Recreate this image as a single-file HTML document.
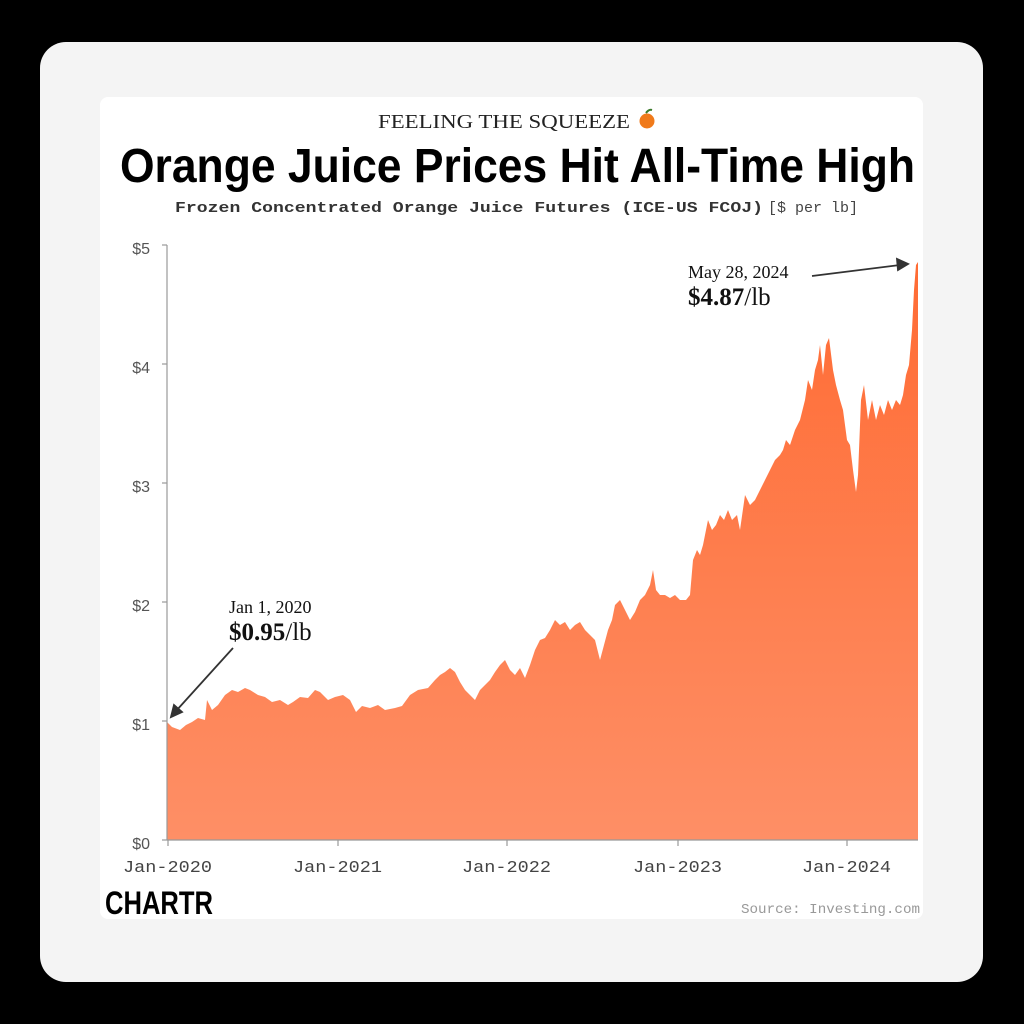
<!DOCTYPE html>
<html><head><meta charset="utf-8"><style>
html,body{margin:0;padding:0;background:#000;width:1024px;height:1024px;overflow:hidden}
</style></head><body>
<svg width="1024" height="1024" viewBox="0 0 1024 1024" xmlns="http://www.w3.org/2000/svg">
<defs>
<linearGradient id="g" x1="0" y1="245" x2="0" y2="840" gradientUnits="userSpaceOnUse">
<stop offset="0" stop-color="#ff6a32"/><stop offset="1" stop-color="#fe8f66"/>
</linearGradient>
</defs>
<rect x="40" y="42" width="943" height="940" rx="26" fill="#f4f4f4"/>
<rect x="100" y="97" width="823" height="822" rx="8" fill="#ffffff"/>
<text x="378" y="128" font-family="Liberation Serif, serif" font-size="20" textLength="252" lengthAdjust="spacingAndGlyphs" fill="#222">FEELING THE SQUEEZE</text>
<circle cx="647" cy="121" r="7.5" fill="#f07a1a"/><path d="M646 113 q3 -4 6 -3" stroke="#3a7a2a" stroke-width="2" fill="none"/>
<text x="120" y="182" font-family="Liberation Sans Narrow, Liberation Sans, sans-serif" font-weight="bold" font-size="48" textLength="795" lengthAdjust="spacingAndGlyphs" fill="#000">Orange Juice Prices Hit All-Time High</text>
<text x="175" y="212" font-family="Liberation Mono, monospace" font-weight="bold" font-size="15" textLength="588" lengthAdjust="spacingAndGlyphs" fill="#333">Frozen Concentrated Orange Juice Futures (ICE-US FCOJ)</text>
<text x="768" y="212" font-family="Liberation Mono, monospace" font-size="15" textLength="90" lengthAdjust="spacingAndGlyphs" fill="#444">[$ per lb]</text>
<path fill="url(#g)" d="M167,840 L167,722 172,727 180,730 186,725 192,722 198,718 205,720 207,700 212,710 218,705 225,695 232,690 238,692 245,688 250,690 258,695 265,697 272,702 280,700 288,705 293,702 300,697 308,698 315,690 320,692 328,700 335,697 343,695 350,700 356,712 362,706 370,708 378,705 385,710 395,708 402,706 410,695 418,690 428,688 435,680 440,675 445,672 450,668 455,672 460,682 465,690 470,695 475,700 480,690 485,685 490,680 495,672 500,665 505,660 510,670 515,675 520,668 525,678 530,665 535,650 540,640 545,638 550,630 555,620 560,625 565,622 570,630 575,625 580,622 585,630 590,635 595,640 600,660 604,645 608,630 612,620 615,605 620,600 625,610 630,620 635,612 640,600 645,595 650,585 653,570 656,590 660,595 665,595 670,598 675,595 680,600 686,600 690,595 693,560 697,550 700,555 703,545 708,520 712,530 716,525 720,515 724,520 728,510 732,520 737,515 740,530 745,495 750,505 755,500 760,490 765,480 770,470 775,460 780,455 783,450 786,440 790,445 795,430 800,420 805,400 808,380 812,390 815,370 818,360 820,345 823,375 826,345 829,338 833,370 836,385 840,400 843,410 847,440 850,445 853,470 856,492 858,475 861,400 864,385 868,420 872,400 876,420 880,405 884,415 888,400 892,410 896,400 900,405 903,395 906,375 909,365 912,330 914,290 916,265 918,262 918,840 Z"/>
<g stroke="#999" stroke-width="1.2">
<line x1="167" y1="245" x2="167" y2="840"/><line x1="167" y1="840" x2="918" y2="840"/>
<line x1="162" y1="245" x2="167" y2="245"/><line x1="162" y1="364" x2="167" y2="364"/><line x1="162" y1="483" x2="167" y2="483"/><line x1="162" y1="602" x2="167" y2="602"/><line x1="162" y1="721" x2="167" y2="721"/><line x1="162" y1="840" x2="167" y2="840"/>
<line x1="168" y1="840" x2="168" y2="846"/><line x1="338" y1="840" x2="338" y2="846"/><line x1="507" y1="840" x2="507" y2="846"/><line x1="678" y1="840" x2="678" y2="846"/><line x1="847" y1="840" x2="847" y2="846"/>
</g>
<g font-family="Liberation Sans, sans-serif" font-size="16" fill="#555" text-anchor="end">
<text x="150" y="254">$5</text><text x="150" y="373">$4</text><text x="150" y="492">$3</text><text x="150" y="611">$2</text><text x="150" y="730">$1</text><text x="150" y="849">$0</text>
</g>
<g font-family="Liberation Mono, monospace" font-size="17" fill="#444">
<text x="123" y="872" textLength="89" lengthAdjust="spacingAndGlyphs">Jan-2020</text>
<text x="293" y="872" textLength="89" lengthAdjust="spacingAndGlyphs">Jan-2021</text>
<text x="462" y="872" textLength="89" lengthAdjust="spacingAndGlyphs">Jan-2022</text>
<text x="633" y="872" textLength="89" lengthAdjust="spacingAndGlyphs">Jan-2023</text>
<text x="802" y="872" textLength="89" lengthAdjust="spacingAndGlyphs">Jan-2024</text>
</g>
<g font-family="Liberation Serif, serif" fill="#111">
<text x="229" y="613" font-size="18">Jan 1, 2020</text>
<text x="229" y="640" font-size="25"><tspan font-weight="bold">$0.95</tspan>/lb</text>
<text x="688" y="278" font-size="18">May 28, 2024</text>
<text x="688" y="305" font-size="25"><tspan font-weight="bold">$4.87</tspan>/lb</text>
</g>
<g stroke="#333" stroke-width="1.8" fill="#333">
<line x1="233" y1="648" x2="176" y2="711"/><path d="M171,717 L174,705 L182,712 Z"/>
<line x1="812" y1="276" x2="900" y2="265"/><path d="M908,264 L897,259 L898,270 Z"/>
</g>
<text x="105" y="914" font-family="Liberation Sans Narrow, Liberation Sans, sans-serif" font-weight="bold" font-size="32" textLength="108" lengthAdjust="spacingAndGlyphs" fill="#000">CHARTR</text>
<text x="741" y="913" font-family="Liberation Mono, monospace" font-size="14" textLength="179" lengthAdjust="spacingAndGlyphs" fill="#999">Source: Investing.com</text>
</svg>
</body></html>
